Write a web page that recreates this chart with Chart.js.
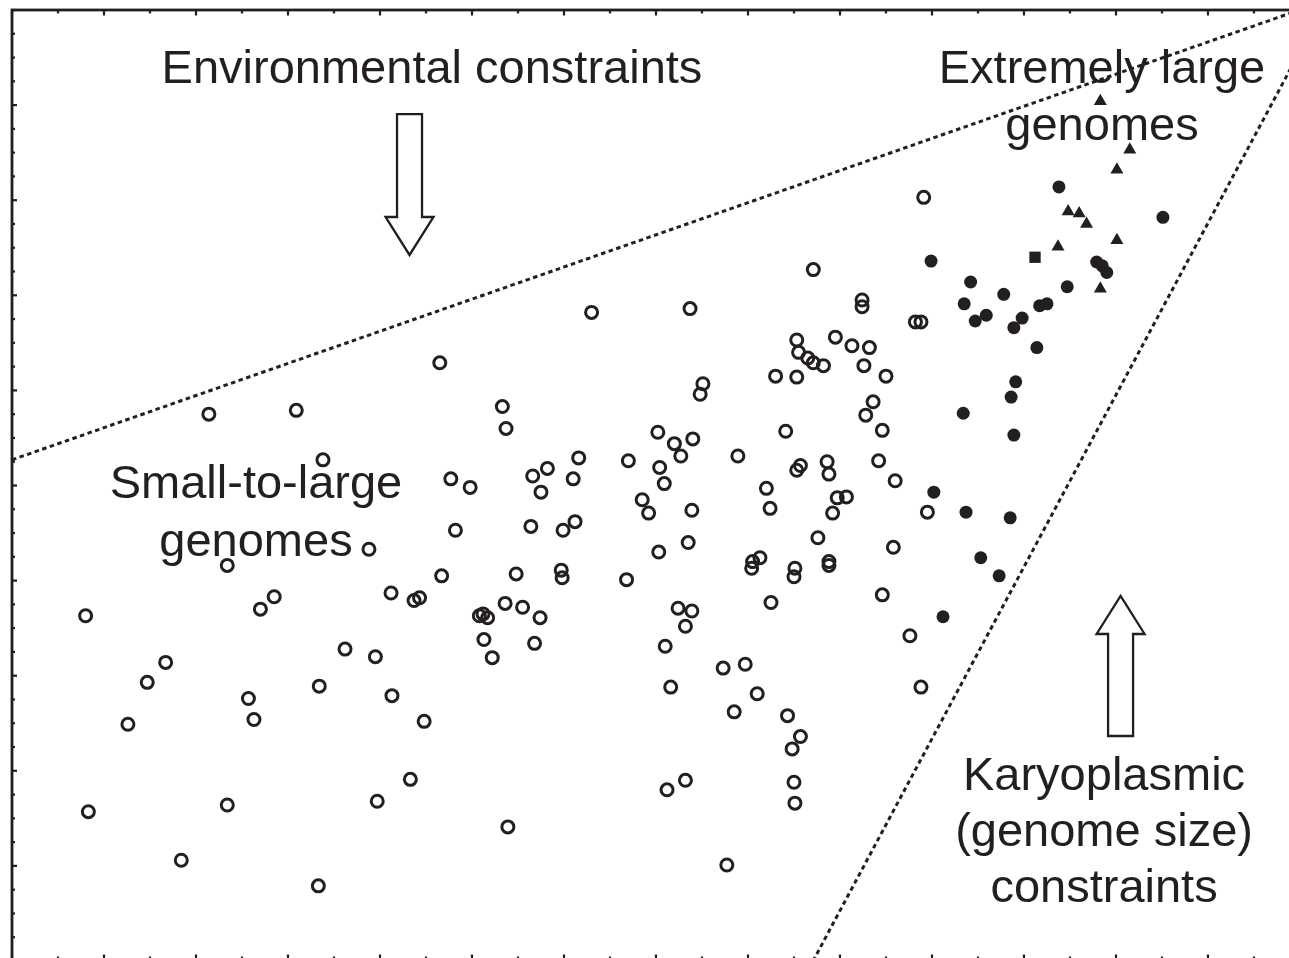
<!DOCTYPE html>
<html><head><meta charset="utf-8">
<script src="https://cdn.jsdelivr.net/npm/chart.js@4.4.1/dist/chart.umd.min.js"></script>
<style>
html,body{margin:0;padding:0;overflow:hidden;background:#fff;width:1289px;height:958px}
canvas{position:absolute;left:0;top:0}
</style></head>
<body><canvas id="c" width="1310" height="985"></canvas>
<script>
// ---- data (arbitrary plot units; no axis labels in the original) ----
const openCircles = [
 [9.91,8.03],[8.71,7.27],[6.30,6.82],[7.37,6.86],[9.24,6.95],[9.24,6.88],[9.82,6.72],[9.88,6.72],
 [4.65,6.29],[8.53,6.53],[8.95,6.56],[9.13,6.47],[9.32,6.45],[8.55,6.40],[8.65,6.34],[8.71,6.29],
 [8.82,6.26],[9.26,6.26],[8.30,6.15],[8.53,6.14],[9.50,6.15],[7.51,6.07],[7.48,5.96],
 [2.14,5.75],[3.09,5.79],[5.33,5.83],[5.37,5.60],
 [9.36,5.88],[9.28,5.74],[9.46,5.58],[8.41,5.57],[7.02,5.56],[7.20,5.44],[7.40,5.49],[7.27,5.31],
 [7.89,5.31],[6.70,5.26],[7.04,5.19],[7.09,5.02],[6.16,5.29],[5.82,5.18],[5.66,5.10],[6.10,5.07],[5.75,4.93],
 [3.38,5.27],[4.77,5.07],[4.98,4.98],
 [8.57,5.21],[8.86,5.25],[9.42,5.26],[8.53,5.16],[8.88,5.12],[9.60,5.05],
 [8.20,4.97],[8.24,4.76],[8.97,4.87],[9.07,4.88],[8.92,4.71],[9.95,4.72],
 [6.85,4.85],[6.92,4.71],[7.39,4.74],[5.64,4.57],[5.99,4.53],[6.12,4.62],[4.82,4.53],
 [7.35,4.40],[7.03,4.30],[8.76,4.45],[9.58,4.35],[3.88,4.33],
 [2.34,4.16],[8.05,4.20],[8.13,4.24],[8.04,4.13],[8.51,4.13],[8.50,4.04],[8.88,4.20],[8.88,4.16],
 [5.97,4.11],[5.98,4.03],[5.48,4.07],[4.67,4.05],[6.68,4.01],
 [4.12,3.87],[4.37,3.79],[4.43,3.82],[2.85,3.83],[2.70,3.70],[9.46,3.85],[8.25,3.77],
 [0.80,3.63],[5.36,3.76],[5.55,3.72],[5.08,3.63],[5.12,3.65],[5.17,3.61],[5.74,3.61],[7.24,3.71],[7.39,3.68],[7.32,3.52],
 [5.13,3.38],[5.68,3.34],[5.22,3.19],[7.10,3.31],[3.62,3.28],[3.95,3.20],[1.67,3.14],[9.76,3.42],
 [1.47,2.93],[3.34,2.89],[4.13,2.79],[7.16,2.88],[7.73,3.08],[7.97,3.12],[8.10,2.81],[9.88,2.88],
 [2.57,2.76],[2.63,2.54],[1.26,2.49],[4.48,2.52],[7.85,2.62],[8.43,2.58],[8.57,2.36],[8.48,2.23],
 [4.33,1.91],[3.97,1.68],[2.34,1.64],[0.83,1.57],[7.12,1.80],[7.32,1.90],[8.50,1.88],[8.51,1.66],
 [5.39,1.41],[1.84,1.06],[7.77,1.01],[3.33,0.79]
];
const filledCircles = [
 [9.99,7.36],[11.38,8.14],[12.51,7.82],[10.42,7.14],[10.35,6.91],[10.78,7.01],[10.47,6.73],[10.59,6.79],
 [10.98,6.76],[10.89,6.66],[11.17,6.89],[11.25,6.91],[11.47,7.09],[11.79,7.35],[11.85,7.31],[11.90,7.24],
 [11.14,6.45],[10.91,6.09],[10.86,5.93],[10.34,5.76],[10.89,5.53],[10.02,4.93],[10.37,4.72],[10.85,4.66],
 [10.53,4.24],[10.73,4.05],[10.12,3.62]
];
const triangles = [
 [11.83,9.04],[12.15,8.53],[12.01,8.32],[11.48,7.88],[11.60,7.86],[11.68,7.75],[11.37,7.51],[12.01,7.58],[11.83,7.07]
];
const squares = [[11.12,7.40]];
// dotted constraint lines (endpoints)
const environmentalLine = [[0,5.27],[13.935,9.98]];
const karyoplasmicLine = [[8.707,0],[13.935,9.45]];
// tick positions
const xMajorTicks = [0,1,2,3,4,5,6,7,8,9,10,11,12,13];
const xMinorTicks = [0.5,1.5,2.5,3.5,4.5,5.5,6.5,7.5,8.5,9.5,10.5,11.5,12.5,13.5];
const yMajorTicks = [0,1,2,3,4,5,6,7,8,9,10];
const yMinorTicks = [0.25,0.5,0.75,1.25,1.5,1.75,2.25,2.5,2.75,3.25,3.5,3.75,4.25,4.5,4.75,5.25,5.5,5.75,
 6.25,6.5,6.75,7.25,7.5,7.75,8.25,8.5,8.75,9.25,9.5,9.75];
// text labels
const labelTexts = [
 ['Environmental constraints'],
 ['Extremely large','genomes'],
 ['Small-to-large','genomes'],
 ['Karyoplasmic','(genome size)','constraints']
];

// ---- layout / style ----
const INK = '#231f20';
const labelAnchors = [[4.565,9.232],[11.848,9.232],[2.652,4.869],[11.87,1.798]];
const lineGap = [57,57,58,56];
const arrows = [ // center x, tail y, tip y (plot units)
 {x:4.321, tail:8.906, tip:7.424},
 {x:12.050, tail:2.366, tip:3.838}
];
const toPts = a => a.map(p => ({x:p[0], y:p[1]}));

const decor = {
 id:'decor',
 afterDatasetsDraw(chart){
  const {ctx, chartArea:a, scales:{x, y}} = chart;
  ctx.save();
  // frame
  ctx.strokeStyle = INK; ctx.lineWidth = 2.8;
  ctx.strokeRect(a.left, a.top, a.right - a.left, a.bottom - a.top);
  // ticks
  ctx.lineWidth = 2.2;
  const seg = (x1,y1,x2,y2)=>{ctx.beginPath();ctx.moveTo(x1,y1);ctx.lineTo(x2,y2);ctx.stroke();};
  xMajorTicks.forEach(t=>{const p=x.getPixelForValue(t); seg(p,a.top,p,a.top+5.5); seg(p,a.bottom,p,a.bottom-6.5);});
  xMinorTicks.forEach(t=>{const p=x.getPixelForValue(t); seg(p,a.top,p,a.top+3.5); seg(p,a.bottom,p,a.bottom-4.5);});
  yMajorTicks.forEach(t=>{const p=y.getPixelForValue(t); seg(a.left,p,a.left+5,p); seg(a.right,p,a.right-5,p);});
  yMinorTicks.forEach(t=>{const p=y.getPixelForValue(t); seg(a.left,p,a.left+3,p); seg(a.right,p,a.right-3,p);});
  // arrows
  ctx.lineWidth = 2.3; ctx.lineJoin = 'miter'; ctx.fillStyle = '#fff';
  arrows.forEach(ar=>{
   const cx = x.getPixelForValue(ar.x), ty = y.getPixelForValue(ar.tail), tp = y.getPixelForValue(ar.tip);
   const dir = tp > ty ? 1 : -1;
   const sw = 12.5, hw = 24, hl = 38;
   const base = tp - dir*hl;
   ctx.beginPath();
   ctx.moveTo(cx-sw, ty); ctx.lineTo(cx+sw, ty); ctx.lineTo(cx+sw, base); ctx.lineTo(cx+hw, base);
   ctx.lineTo(cx, tp); ctx.lineTo(cx-hw, base); ctx.lineTo(cx-sw, base); ctx.closePath();
   ctx.fill(); ctx.stroke();
  });
  // labels
  ctx.fillStyle = INK; ctx.font = '47px "Liberation Sans", Arial, sans-serif';
  ctx.textAlign = 'center'; ctx.textBaseline = 'alphabetic';
  labelTexts.forEach((lines,i)=>{
   const cx = x.getPixelForValue(labelAnchors[i][0]), by = y.getPixelForValue(labelAnchors[i][1]);
   lines.forEach((s,j)=>ctx.fillText(s, cx, by + j*lineGap[i]));
  });
  ctx.restore();
 }
};

new Chart(document.getElementById('c'), {
 type:'scatter',
 data:{datasets:[
  {data:toPts(environmentalLine), showLine:true, pointRadius:0, borderColor:INK, borderWidth:3, borderDash:[4.5,3.5], order:5},
  {data:toPts(karyoplasmicLine), showLine:true, pointRadius:0, borderColor:INK, borderWidth:3, borderDash:[4.5,3.5], order:5},
  {data:toPts(openCircles), pointStyle:'circle', pointRadius:6, borderWidth:3, borderColor:INK, backgroundColor:'rgba(0,0,0,0)'},
  {data:toPts(filledCircles), pointStyle:'circle', pointRadius:6.5, borderWidth:0, borderColor:INK, backgroundColor:INK},
  {data:toPts(triangles), pointStyle:'triangle', pointRadius:7.5, borderWidth:0, borderColor:INK, backgroundColor:INK},
  {data:toPts(squares), pointStyle:'rect', pointRadius:8, borderWidth:0, borderColor:INK, backgroundColor:INK}
 ]},
 options:{
  responsive:false, animation:false, devicePixelRatio:1,
  layout:{padding:{left:12, top:10, right:16, bottom:24}},
  plugins:{legend:{display:false}, tooltip:{enabled:false}},
  scales:{
   x:{type:'linear', min:0, max:13.935, display:false},
   y:{type:'linear', min:0, max:10, display:false}
  }
 },
 plugins:[decor]
});
</script>
</body></html>
